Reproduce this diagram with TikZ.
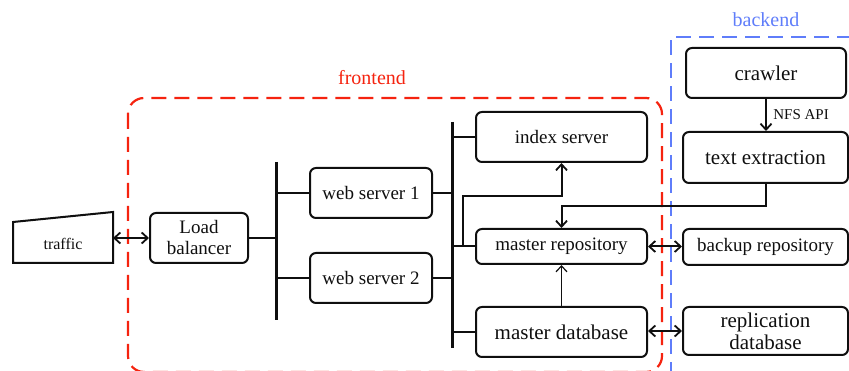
\documentclass[tikz,border=0pt]{standalone}
\usepackage{fontspec}
\setmainfont{Liberation Serif}
\usetikzlibrary{arrows.meta}
\definecolor{fred}{RGB}{245,35,15}
\definecolor{bblue}{RGB}{95,125,250}
\definecolor{ink}{RGB}{15,15,15}
\newcommand{\fs}[2]{\fontsize{#1}{#2}\selectfont}
\tikzset{
  box/.style={draw=ink, line width=2pt, rounded corners=6pt, align=center, inner sep=0pt, text=ink},
  bus/.style={draw=ink, line width=3pt},
  conn/.style={draw=ink, line width=2pt},
  tip/.style={-{Straight Barb[length=6pt,width=11pt,line width=1.8pt]}},
  dtip/.style={{Straight Barb[length=6pt,width=11pt,line width=1.8pt]}-{Straight Barb[length=6pt,width=11pt,line width=1.8pt]}},
}
\begin{document}
\begin{tikzpicture}[x=1pt,y=-1pt]
\useasboundingbox (0,0) rectangle (849,371);
% groups
\draw[fred, line width=2.2pt, dash pattern=on 15pt off 8pt, rounded corners=16pt] (128,98) rectangle (662,372);
\node[text=fred, font=\fs{20}{24}] (fe) at (372,78) {frontend};
\draw[bblue, line width=2.2pt, dash pattern=on 15pt off 8pt] (671,400) -- (671,37) -- (870,37);
\node[text=bblue, font=\fs{20}{24}] (be) at (766,20) {backend};
% traffic
\draw[ink, line width=2pt] (13,222) -- (113,212) -- (113,263) -- (13,263) -- cycle;
\node[text=ink, font=\fs{16}{19}] (traffic) at (63,244) {traffic};
\coordinate (trafR) at (113,238);
% nodes
\node[box, font=\fs{19}{21}, minimum width=98pt, minimum height=50pt] (lb) at (199,238) {Load\\balancer};
\node[box, font=\fs{19}{22}, minimum width=122pt, minimum height=50pt] (ws1) at (371,193) {web server 1};
\node[box, font=\fs{19}{22}, minimum width=122pt, minimum height=50pt] (ws2) at (371,278) {web server 2};
\node[box, font=\fs{19}{22}, minimum width=171pt, minimum height=50pt] (idx) at (561.5,137) {index server};
\node[box, font=\fs{19}{22}, minimum width=171pt, minimum height=35pt] (mrepo) at (561.5,246.5) {master repository};
\node[box, font=\fs{21}{24}, minimum width=171pt, minimum height=50pt] (mdb) at (561.5,332) {master database};
\node[box, font=\fs{21}{24}, minimum width=160pt, minimum height=50pt] (crawler) at (766,73) {crawler};
\node[box, font=\fs{21}{24}, minimum width=165pt, minimum height=51pt] (tex) at (765.5,157.5) {text extraction};
\node[box, font=\fs{19}{22}, minimum width=165pt, minimum height=36pt] (backup) at (765.5,247) {backup repository};
\node[box, font=\fs{21}{22}, minimum width=165pt, minimum height=48pt, text width=160pt] (repl) at (765.5,331) {replication\\database};
% buses
\coordinate (b1t) at (276,162);
\coordinate (b1b) at (276,320);
\coordinate (b2t) at (452,122);
\coordinate (b2b) at (452,348);
\draw[bus] (b1t) -- (b1b);
\draw[bus] (b2t) -- (b2b);
% connectors
\draw[conn, dtip] (trafR) -- (lb.west);
\draw[conn] (lb.east) -- (lb.east -| b1t);
\draw[conn] (ws1.west) -- (ws1.west -| b1t);
\draw[conn] (ws2.west) -- (ws2.west -| b1t);
\draw[conn] (ws1.east) -- (ws1.east -| b2t);
\draw[conn] (ws2.east) -- (ws2.east -| b2t);
\draw[conn] (idx.west) -- (idx.west -| b2t);
\draw[conn] (mrepo.west) -- (mrepo.west -| b2t);
\draw[conn] (mdb.west) -- (mdb.west -| b2t);
\coordinate (j1) at (463,246.5);
\draw[conn, tip] (j1) -- (463,196) -| (idx.south);
\draw[conn, tip] (tex.south) -- ++(0,22) -| (mrepo.north);
\draw[draw=ink, line width=0.9pt, -{Straight Barb[length=6pt,width=11pt,line width=1.2pt]}] (mdb.north) -- (mrepo.south);
\draw[conn, dtip] (mrepo.east) -- (mrepo.east -| backup.west);
\draw[conn, dtip] (mdb.east |- repl.west) -- (repl.west);
\draw[conn, tip] (crawler.south) -- (crawler.south |- tex.north) node[midway, right=3pt, font=\fs{15}{18}, text=ink] {NFS API};
\end{tikzpicture}
\end{document}
